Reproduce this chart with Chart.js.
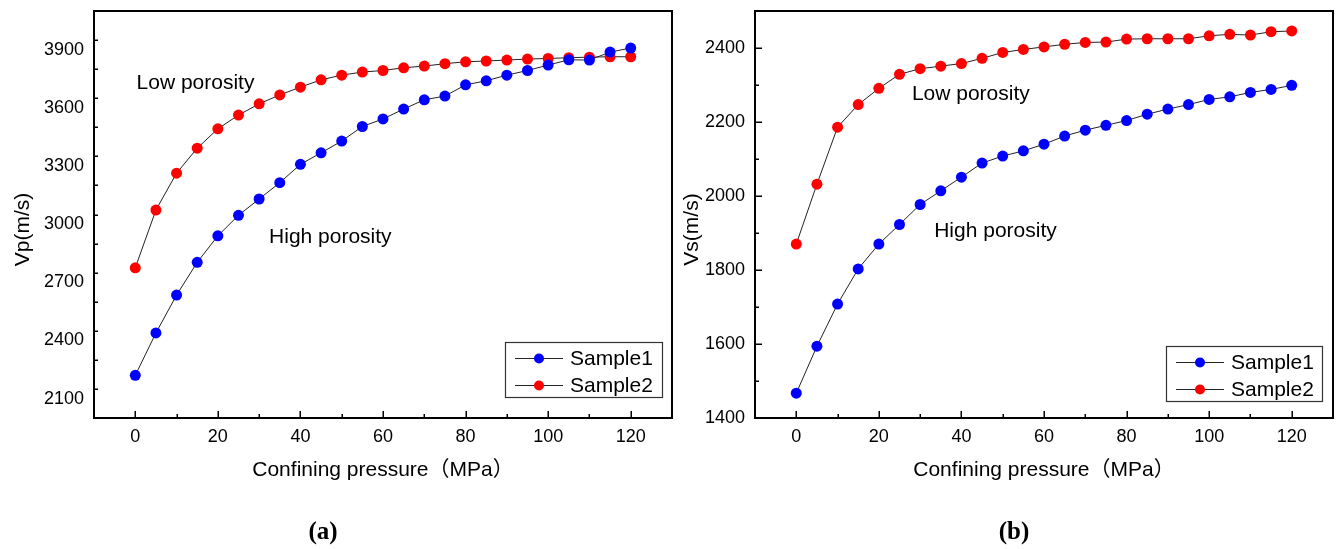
<!DOCTYPE html>
<html>
<head>
<meta charset="utf-8">
<title>Velocity vs confining pressure</title>
<script src="https://cdn.jsdelivr.net/npm/chart.js@4/dist/chart.umd.min.js"></script>
<style>
  html, body { margin: 0; padding: 0; background: #fff; }
  body { width: 1341px; height: 549px; position: relative; overflow: hidden; }
  canvas { position: absolute; top: 0; }
  #cvA { left: 0; }
  #cvB { left: 674px; }
  .cap { position: absolute; top: 515px; width: 100px; text-align: center;
         font: bold 25px "Liberation Serif", "DejaVu Serif", serif; line-height: 32px; color: #000; }
</style>
</head>
<body>
<canvas id="cvA" width="682" height="549"></canvas>
<canvas id="cvB" width="667" height="549"></canvas>
<div class="cap" style="left:273px">(a)</div>
<div class="cap" style="left:964px">(b)</div>
<script>
// Confining pressure steps (MPa)
const pressure = [0, 5, 10, 15, 20, 25, 30, 35, 40, 45, 50, 55, 60, 65, 70, 75, 80, 85, 90, 95, 100, 105, 110, 115, 120];

// P-wave velocity (m/s)
const vpSample1 = [2220, 2439, 2634, 2803, 2940, 3046, 3130, 3214, 3309, 3368, 3429, 3504, 3543, 3594, 3642, 3661, 3719, 3740, 3769, 3793, 3821, 3848, 3847, 3888, 3909];
const vpSample2 = [2775, 3073, 3263, 3392, 3492, 3563, 3621, 3667, 3707, 3745, 3769, 3785, 3793, 3807, 3816, 3828, 3838, 3842, 3847, 3852, 3855, 3859, 3862, 3864, 3864];

// S-wave velocity (m/s)
const vsSample1 = [1467, 1594, 1708, 1803, 1870, 1923, 1977, 2014, 2051, 2089, 2108, 2122, 2140, 2162, 2178, 2191, 2204, 2221, 2235, 2247, 2261, 2268, 2280, 2288, 2299];
const vsSample2 = [1870, 2032, 2186, 2247, 2291, 2329, 2344, 2351, 2358, 2372, 2388, 2396, 2403, 2410, 2415, 2416, 2424, 2425, 2425, 2425, 2433, 2437, 2435, 2444, 2446];

// Axis tick labels
const xTicks = [0, 20, 40, 60, 80, 100, 120];
const vpTicks = [2100, 2400, 2700, 3000, 3300, 3600, 3900];
const vsTicks = [1400, 1600, 1800, 2000, 2200, 2400];

const seriesNames = ['Sample1', 'Sample2'];
const xTitle = 'Confining pressure\uFF08MPa\uFF09';

const FONT = "'Liberation Sans', Arial, 'Noto Sans CJK SC', sans-serif";
const BLUE = '#0000ff';
const RED = '#ff0000';

// Draws the frame, inward tick marks, the vertical title, text notes and a boxed legend.
const panelDecor = {
  id: 'panelDecor',
  afterDraw(chart, args, o) {
    const { ctx, chartArea: a, scales } = chart;
    const xs = scales.x, ys = scales.y;
    ctx.save();

    // tick marks (inside the frame)
    ctx.strokeStyle = '#000';
    ctx.lineWidth = 1.5;
    ctx.beginPath();
    for (let v = xs.min; v <= xs.max + 1e-9; v += o.xMinor) {
      const px = Math.round(xs.getPixelForValue(v)) + 0.25;
      const len = xTicks.includes(v) ? 7 : 4;
      if (px <= a.left + 1 || px >= a.right - 1) continue;
      ctx.moveTo(px, a.bottom);
      ctx.lineTo(px, a.bottom - len);
    }
    for (let v = ys.min; v <= ys.max + 1e-9; v += o.yMinor) {
      const py = Math.round(ys.getPixelForValue(v)) + 0.25;
      const len = o.yMajor.includes(v) ? 7 : 4;
      if (py <= a.top + 1 || py >= a.bottom - 1) continue;
      ctx.moveTo(a.left, py);
      ctx.lineTo(a.left + len, py);
    }
    ctx.stroke();

    // frame
    ctx.lineWidth = 2;
    ctx.strokeRect(a.left, a.top, a.right - a.left, a.bottom - a.top);

    // vertical axis title
    ctx.fillStyle = '#000';
    ctx.font = '21px ' + FONT;
    ctx.textAlign = 'center';
    ctx.textBaseline = 'middle';
    ctx.save();
    ctx.translate(o.yTitleX, o.yTitleY);
    ctx.rotate(-Math.PI / 2);
    ctx.fillText(o.yTitle, 0, 0);
    ctx.restore();

    // text notes placed in data coordinates
    ctx.textAlign = 'left';
    for (const n of o.notes) {
      ctx.fillText(n.text, xs.getPixelForValue(n.x), ys.getPixelForValue(n.y));
    }

    // legend box in the lower-right corner
    const L = o.legend;
    const bx = a.right - L.right - L.w, by = a.bottom - L.bottom - L.h;
    ctx.fillStyle = '#fff';
    ctx.fillRect(bx, by, L.w, L.h);
    ctx.strokeStyle = '#333';
    ctx.lineWidth = 1.2;
    ctx.strokeRect(bx + 0.5, by + 0.5, L.w, L.h);
    chart.data.datasets.forEach((ds, i) => {
      const cy = by + 16.5 + i * 27;
      ctx.strokeStyle = '#222';
      ctx.lineWidth = 1;
      ctx.beginPath();
      ctx.moveTo(bx + 10, cy);
      ctx.lineTo(bx + 58, cy);
      ctx.stroke();
      ctx.fillStyle = ds.pointBackgroundColor;
      ctx.beginPath();
      ctx.arc(bx + 34, cy, 5, 0, Math.PI * 2);
      ctx.fill();
      ctx.fillStyle = '#000';
      ctx.font = '21px ' + FONT;
      ctx.textBaseline = 'middle';
      ctx.fillText(ds.label, bx + 65, cy + 1);
    });
    ctx.restore();
  }
};

function series(label, values, color) {
  return {
    label,
    data: pressure.map((p, i) => ({ x: p, y: values[i] })),
    borderColor: '#222',
    borderWidth: 1,
    pointRadius: 5.5,
    pointBorderWidth: 0,
    pointBackgroundColor: color,
    pointBorderColor: color,
    tension: 0,
    fill: false
  };
}

function makePanel(canvasId, cfg) {
  const tickFont = { family: FONT, size: 18 };
  return new Chart(document.getElementById(canvasId), {
    type: 'line',
    data: {
      datasets: [
        series(seriesNames[0], cfg.s1, BLUE),
        series(seriesNames[1], cfg.s2, RED)
      ]
    },
    plugins: [panelDecor],
    options: {
      responsive: false,
      animation: false,
      devicePixelRatio: 1,
      events: [],
      layout: { padding: { left: 0, top: 11, right: cfg.padRight, bottom: 0 } },
      plugins: {
        legend: { display: false },
        tooltip: { enabled: false },
        panelDecor: {
          xMinor: 10,
          yMinor: cfg.yMinor,
          yMajor: cfg.yTicks,
          yTitle: cfg.yTitle,
          yTitleX: cfg.yTitleX,
          yTitleY: 229.5,
          notes: cfg.notes,
          legend: cfg.legend
        }
      },
      scales: {
        x: {
          type: 'linear',
          min: -10,
          max: 130,
          afterBuildTicks: s => { s.ticks = xTicks.map(v => ({ value: v })); },
          afterFit: s => { s.height = 131; s.paddingLeft = 0; s.paddingRight = 0; },
          grid: { display: false, drawTicks: false },
          border: { display: false },
          ticks: { padding: 8, color: '#000', font: tickFont, autoSkip: false, maxRotation: 0, callback: v => String(v) },
          title: { display: true, text: xTitle, color: '#000', font: { family: FONT, size: 21 }, padding: { top: 0, bottom: 66 } }
        },
        y: {
          type: 'linear',
          min: cfg.yMin,
          max: cfg.yMax,
          afterBuildTicks: s => { s.ticks = cfg.yTicks.map(v => ({ value: v })); },
          afterFit: s => { s.width = cfg.yWidth; s.paddingTop = 0; s.paddingBottom = 0; },
          grid: { display: false, drawTicks: false },
          border: { display: false },
          ticks: { padding: 10, color: '#000', font: tickFont, autoSkip: false, callback: v => String(v) }
        }
      }
    }
  });
}

makePanel('cvA', {
  s1: vpSample1, s2: vpSample2,
  yMin: 2000, yMax: 4100, yTicks: vpTicks, yMinor: 150,
  yWidth: 94, padRight: 10,
  yTitle: 'Vp(m/s)', yTitleX: 23,
  notes: [
    { text: 'Low porosity', x: 0.3, y: 3730 },
    { text: 'High porosity', x: 32.4, y: 2934 }
  ],
  legend: { w: 157, h: 55, right: 10, bottom: 21 }
});

makePanel('cvB', {
  s1: vsSample1, s2: vsSample2,
  yMin: 1400, yMax: 2500, yTicks: vsTicks, yMinor: 100,
  yWidth: 81, padRight: 8,
  yTitle: 'Vs(m/s)', yTitleX: 18,
  notes: [
    { text: 'Low porosity', x: 28.0, y: 2275 },
    { text: 'High porosity', x: 33.4, y: 1905 }
  ],
  legend: { w: 156, h: 55, right: 11, bottom: 17 }
});
</script>
</body>
</html>
